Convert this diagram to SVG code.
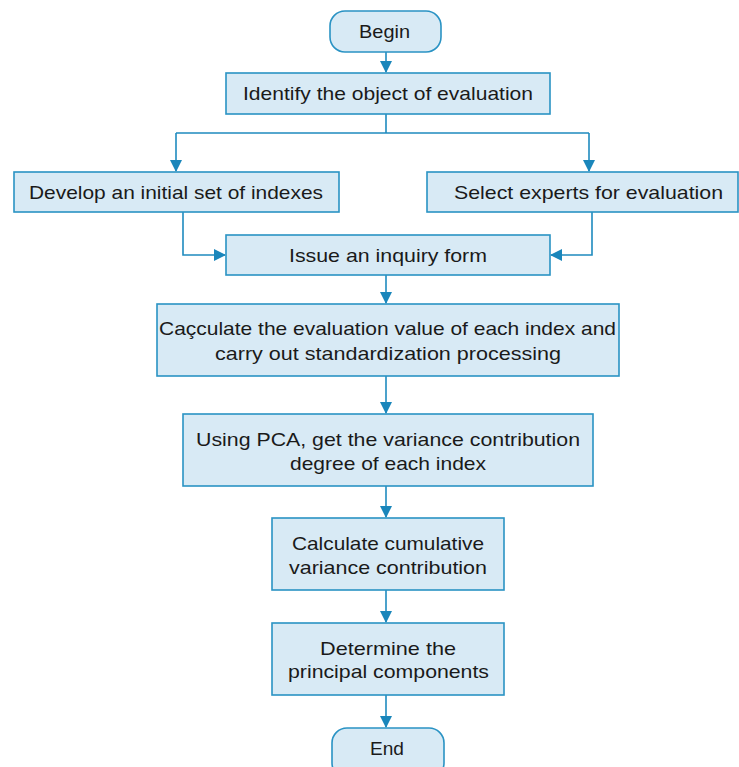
<svg xmlns="http://www.w3.org/2000/svg" width="739" height="767" viewBox="0 0 739 767">
<defs>
<style>
.box{fill:#d8eaf5;stroke:#2a93c4;stroke-width:1.6}
.t{font-family:"Liberation Sans",Arial,sans-serif;font-size:18.5px;fill:#1a1a1a;text-anchor:middle}
.c{fill:none;stroke:#1f8bbf;stroke-width:1.6}
</style>
<marker id="ah" markerWidth="12" markerHeight="12" refX="11" refY="6" orient="auto" markerUnits="userSpaceOnUse">
<path d="M0,0 L12,6 L0,12 Z" fill="#1a86bb"/>
</marker>
</defs>
<rect width="739" height="767" fill="#fff"/>
<g id="connectors">
<path class="c" d="M386,52 V72" marker-end="url(#ah)"/>
<path class="c" d="M386,114 V133 M176,133 H589"/>
<path class="c" d="M176,133 V171" marker-end="url(#ah)"/>
<path class="c" d="M589,133 V171" marker-end="url(#ah)"/>
<path class="c" d="M183,212 V255 H225" marker-end="url(#ah)"/>
<path class="c" d="M592,212 V255 H551" marker-end="url(#ah)"/>
<path class="c" d="M386,275 V303" marker-end="url(#ah)"/>
<path class="c" d="M386,376 V413" marker-end="url(#ah)"/>
<path class="c" d="M386,486 V517" marker-end="url(#ah)"/>
<path class="c" d="M386,590 V622" marker-end="url(#ah)"/>
<path class="c" d="M386,695 V727" marker-end="url(#ah)"/>
</g>
<g id="begin"><rect class="box" x="330" y="11" width="111" height="41" rx="15"/><text class="t" x="384.5" y="38" textLength="51" lengthAdjust="spacingAndGlyphs">Begin</text></g>
<g id="identify"><rect class="box" x="226" y="73" width="324" height="41"/><text class="t" x="388" y="100" textLength="290" lengthAdjust="spacingAndGlyphs">Identify the object of evaluation</text></g>
<g id="develop"><rect class="box" x="14" y="172" width="325" height="40"/><text class="t" x="176" y="199" textLength="294" lengthAdjust="spacingAndGlyphs">Develop an initial set of indexes</text></g>
<g id="select"><rect class="box" x="427" y="172" width="311" height="40"/><text class="t" x="588.5" y="199" textLength="269" lengthAdjust="spacingAndGlyphs">Select experts for evaluation</text></g>
<g id="issue"><rect class="box" x="226" y="235" width="324" height="40"/><text class="t" x="388" y="262" textLength="198" lengthAdjust="spacingAndGlyphs">Issue an inquiry form</text></g>
<g id="calc"><rect class="box" x="157" y="304" width="462" height="72"/><text class="t" x="387.5" y="335" textLength="457" lengthAdjust="spacingAndGlyphs">Caçculate the evaluation value of each index and</text><text class="t" x="388" y="360" textLength="346" lengthAdjust="spacingAndGlyphs">carry out standardization processing</text></g>
<g id="pca"><rect class="box" x="183" y="414" width="410" height="72"/><text class="t" x="388" y="446" textLength="384" lengthAdjust="spacingAndGlyphs">Using PCA, get the variance contribution</text><text class="t" x="388" y="470" textLength="196" lengthAdjust="spacingAndGlyphs">degree of each index</text></g>
<g id="cumulative"><rect class="box" x="272" y="518" width="232" height="72"/><text class="t" x="388" y="550" textLength="192" lengthAdjust="spacingAndGlyphs">Calculate cumulative</text><text class="t" x="388" y="574" textLength="198" lengthAdjust="spacingAndGlyphs">variance contribution</text></g>
<g id="determine"><rect class="box" x="272" y="623" width="232" height="72"/><text class="t" x="388" y="655" textLength="136" lengthAdjust="spacingAndGlyphs">Determine the</text><text class="t" x="388.5" y="678" textLength="201" lengthAdjust="spacingAndGlyphs">principal components</text></g>
<g id="end"><rect class="box" x="332" y="728" width="112" height="50" rx="15"/><text class="t" x="387" y="755" textLength="34" lengthAdjust="spacingAndGlyphs">End</text></g>
</svg>
